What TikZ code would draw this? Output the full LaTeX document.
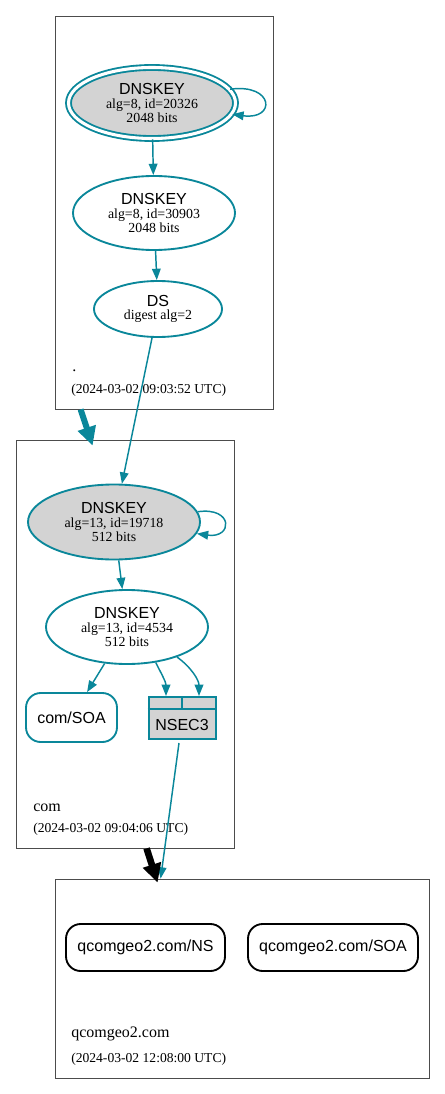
\documentclass[tikz,border=0pt]{standalone}
\usepackage{fontspec}
\setmainfont{Liberation Serif}
\setsansfont{Liberation Sans}
\usetikzlibrary{shapes.geometric,arrows.meta,calc}
\definecolor{dnsteal}{HTML}{0A879A}
\definecolor{keygray}{HTML}{D3D3D3}

\tikzset{
	zonebox/.style={rectangle,draw=black!70,line width=0.6pt,inner sep=0pt},
	zonename/.style={anchor=base west,inner sep=0pt,font=\fontsize{12}{14}\selectfont},
	zonedate/.style={anchor=base west,inner sep=0pt,font=\fontsize{10.2}{12}\selectfont},
	keynode/.style={ellipse,draw=dnsteal,line width=1.4pt,inner sep=0pt,align=center,
		font=\fontsize{10.4}{10.2}\selectfont},
	rrnode/.style={rectangle,rounded corners=11pt,line width=1.4pt,inner sep=0pt,
		font=\sffamily\fontsize{12}{14}\selectfont},
	sigedge/.style={draw=dnsteal,line width=1.1pt,-{Triangle[length=8.5pt,width=6.5pt]}},
	zonearrow/.style={line width=4.5pt,-{Triangle[length=14pt,width=13.5pt]}}
}

\begin{document}
\begin{tikzpicture}[x=0.75pt,y=-0.75pt]
	\useasboundingbox (0,0) rectangle (445,1094);

	% zones
	\node[zonebox,minimum width=163.5pt,minimum height=294.75pt] (zroot) at (164,212.5) {};
	\node[zonebox,minimum width=163.5pt,minimum height=306pt] (zcom) at (125,644) {};
	\node[zonebox,minimum width=280.5pt,minimum height=149.25pt] (zgeo) at (242,978.5) {};

	\node[zonename] (rootname) at (72,371) {.};
	\node[zonedate] (rootdate) at (71,393) {(2024-03-02 09:03:52 UTC)};
	\node[zonename] (comname) at (33,811) {com};
	\node[zonedate] (comdate) at (33,832) {(2024-03-02 09:04:06 UTC)};
	\node[zonename] (geoname) at (71,1037) {qcomgeo2.com};
	\node[zonedate] (geodate) at (71,1062) {(2024-03-02 12:08:00 UTC)};

	% root
	\node[keynode,fill=keygray,double=white,double distance=2.3pt,
		minimum width=125.25pt,minimum height=53.25pt] (ksk1) at (152,103)
		{{\sffamily\fontsize{12}{11}\selectfont DNSKEY}\\alg=8, id=20326\\2048 bits};
	\node[keynode,minimum width=121.5pt,minimum height=55.5pt] (zsk1) at (154,213)
		{{\sffamily\fontsize{12}{11}\selectfont DNSKEY}\\alg=8, id=30903\\2048 bits};
	\node[keynode,minimum width=96pt,minimum height=42pt] (ds) at (158,309)
		{{\sffamily\fontsize{12}{11}\selectfont DS}\\digest alg=2};

	% com
	\node[keynode,fill=keygray,minimum width=129pt,minimum height=56.25pt] (ksk2) at (114,522)
		{{\sffamily\fontsize{12}{11}\selectfont DNSKEY}\\alg=13, id=19718\\512 bits};
	\node[keynode,minimum width=121.5pt,minimum height=55.5pt] (zsk2) at (127,627)
		{{\sffamily\fontsize{12}{11}\selectfont DNSKEY}\\alg=13, id=4534\\512 bits};
	\node[rrnode,draw=dnsteal,minimum width=68.25pt,minimum height=36.75pt] (comsoa) at (71.5,717.5) {com/SOA};
	\node[rectangle,draw=dnsteal,fill=keygray,line width=1.5pt,inner sep=0pt,minimum width=50.25pt,
		text height=24.75pt,text depth=6.75pt,font=\sffamily\fontsize{12}{14}\selectfont] (nsec3) at (182,718) {NSEC3};
	\draw[dnsteal,line width=1.5pt] ($(nsec3.north west)+(0,13)$) -- ($(nsec3.north east)+(0,13)$);
	\draw[dnsteal,line width=1.5pt] (nsec3.north) -- ($(nsec3.north)+(0,13)$);

	% qcomgeo2.com
	\node[rrnode,draw=black,minimum width=119.25pt,minimum height=35.25pt] (geons) at (145.5,947.5) {qcomgeo2.com/NS};
	\node[rrnode,draw=black,minimum width=127.5pt,minimum height=35.25pt] (geosoa) at (333,947.5) {qcomgeo2.com/SOA};

	% signatures and delegations
	\draw[sigedge] (ksk1.10) .. controls +(44,-6) and +(44,6) .. (ksk1.-8);
	\draw[sigedge] (ksk1) -- (zsk1);
	\draw[sigedge] (zsk1) -- (ds);
	\draw[sigedge] (ds) -- (ksk2);
	\draw[sigedge] (ksk2.7) .. controls +(36,-5) and +(36,5) .. (ksk2.-8);
	\draw[sigedge] (ksk2) -- (zsk2);
	\draw[sigedge] (zsk2) -- (comsoa);
	\draw[sigedge] (zsk2.-51) .. controls +(6,12) and +(0,-14) .. ($(nsec3.north)+(-16,0)$);
	\draw[sigedge] (zsk2.-31) .. controls +(14,10) and +(0,-16) .. ($(nsec3.north)+(17,0)$);
	\draw[sigedge] ($(nsec3.south)+(-3,3)$) -- ($(zgeo.north west)+(106,0)$);

	\draw[zonearrow,dnsteal] ($(zroot.south west)+(26,0)$) -- ($(zcom.north west)+(77,6)$);
	\draw[zonearrow,black,line width=5pt] ($(zcom.south west)+(131,0)$) -- ($(zgeo.north west)+(103,4)$);
\end{tikzpicture}
\end{document}
